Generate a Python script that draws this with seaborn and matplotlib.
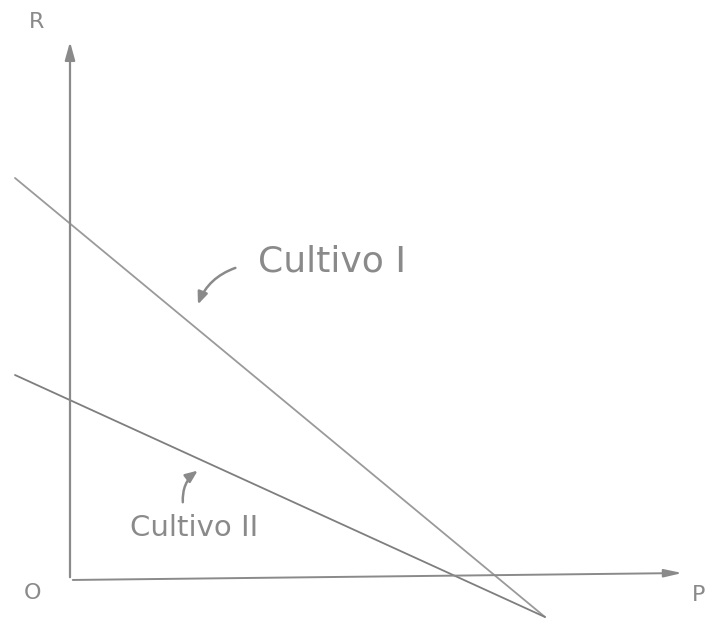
import matplotlib
matplotlib.use("Agg")
import matplotlib.pyplot as plt
import seaborn as sns
import pandas as pd

sns.set_theme(style="white")
plt.rcParams['font.family'] = ['DejaVu Sans']

# Supply lines R vs P for the two crops (endpoints of each hand-drawn segment)
cultivo_1_P = [-1.1, 9.5]
cultivo_1_R = [8.04, -0.74]
cultivo_2_P = [-1.1, 9.5]
cultivo_2_R = [4.1, -0.74]

axis_labels = ["R", "P", "O"]
line_labels = ["Cultivo I", "Cultivo II"]

ink = "#8a8a8a"

fig = plt.figure(figsize=(7.06, 6.19), dpi=100)
ax = fig.add_axes([0, 0, 1, 1])
ax.set_xlim(-1.4, 12.72)
ax.set_ylim(-0.78, 11.6)
ax.axis("off")

df = pd.concat([
    pd.DataFrame({"P": cultivo_1_P, "R": cultivo_1_R, "cultivo": line_labels[0]}),
    pd.DataFrame({"P": cultivo_2_P, "R": cultivo_2_R, "cultivo": line_labels[1]}),
])
sns.lineplot(data=df, x="P", y="R", hue="cultivo",
             palette={line_labels[0]: "#9a9a9a", line_labels[1]: "#7e7e7e"},
             linewidth=1.3, legend=False, ax=ax, sort=False)

# Axes drawn as arrows
ax.annotate("", xy=(0, 10.82), xytext=(0, 0),
            arrowprops=dict(arrowstyle="-|>,head_length=0.9,head_width=0.25",
                            color=ink, lw=1.6))
ax.annotate("", xy=(12.3, 0.14), xytext=(0, 0),
            arrowprops=dict(arrowstyle="-|>,head_length=0.9,head_width=0.2",
                            color=ink, lw=1.4))

ax.text(-0.66, 11.16, axis_labels[0], color=ink, fontsize=16, ha="center", va="center")
ax.text(12.58, -0.3, axis_labels[1], color=ink, fontsize=16, ha="center", va="center")
ax.text(-0.75, -0.26, axis_labels[2], color=ink, fontsize=16, ha="center", va="center")

# Labels with pointing arrows
ax.text(3.76, 6.36, line_labels[0], color=ink, fontsize=26, ha="left", va="center")
ax.annotate("", xy=(2.54, 5.46), xytext=(3.36, 6.26),
            arrowprops=dict(arrowstyle="-|>,head_length=0.6,head_width=0.25",
                            color=ink, lw=1.8, connectionstyle="arc3,rad=0.25"))

ax.text(1.2, 1.04, line_labels[1], color=ink, fontsize=21, ha="left", va="center")
ax.annotate("", xy=(2.6, 2.22), xytext=(2.26, 1.5),
            arrowprops=dict(arrowstyle="-|>,head_length=0.6,head_width=0.25",
                            color=ink, lw=1.8, connectionstyle="arc3,rad=-0.3"))

fig.savefig("out.png", dpi=100, facecolor="white")
